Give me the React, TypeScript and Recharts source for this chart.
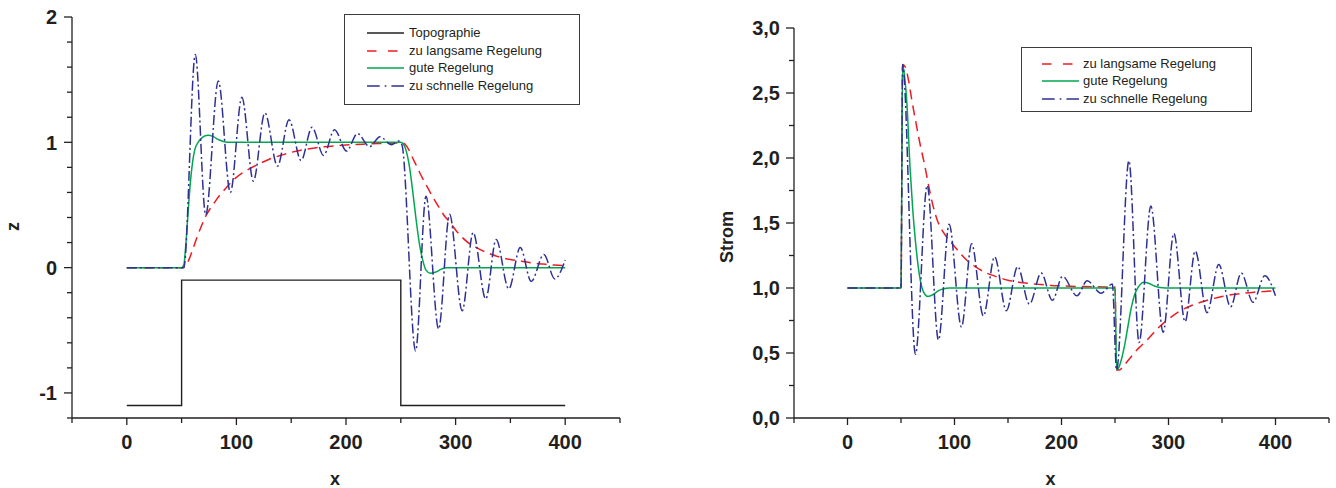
import React from 'react';
import { LineChart, Line, XAxis, YAxis, Legend, Label } from 'recharts';

const FONT = '"Liberation Sans", Arial, Helvetica, sans-serif';
const INK = '#231f20';
const RED = '#ed1c24';
const GREEN = '#00a651';
const BLUE = '#2e3192';

// ---- left panel: z over x ----
const topoX = [0, 50, 50, 250, 250, 400];
const topoZ = [-1.1, -1.1, -0.1, -0.1, -1.1, -1.1];

const langsamX = [0, 50, 53, 56, 60, 64, 68, 72, 76, 80, 85, 90, 95, 100, 110, 120, 130, 140, 150, 160, 170, 180, 190, 200, 215, 230, 250,
  253, 256, 260, 265, 270, 275, 280, 285, 290, 295, 300, 310, 320, 330, 340, 350, 360, 370, 380, 390, 400];
const langsamZ = [0, 0, 0.01, 0.05, 0.14, 0.24, 0.33, 0.41, 0.47, 0.52, 0.58, 0.63, 0.68, 0.72, 0.78, 0.825, 0.865, 0.895, 0.92, 0.94, 0.953, 0.964, 0.972, 0.978, 0.985, 0.99, 0.995,
  0.99, 0.96, 0.89, 0.8, 0.71, 0.63, 0.55, 0.48, 0.41, 0.36, 0.3, 0.21, 0.155, 0.115, 0.085, 0.065, 0.05, 0.037, 0.028, 0.02, 0.015];

const gutX = [0, 50, 52, 54, 56, 58, 60, 62, 65, 69, 74, 79, 84, 89, 95, 250, 252, 255, 258, 261, 264, 267, 270, 273, 277, 282, 287, 292, 400];
const gutZ = [0, 0, 0.02, 0.2, 0.45, 0.68, 0.84, 0.94, 1.0, 1.04, 1.056, 1.045, 1.02, 1.005, 1.0, 1.0, 0.99, 0.93, 0.8, 0.6, 0.38, 0.19, 0.06, -0.02, -0.045, -0.035, -0.012, 0, 0];

const schnellX = [0, 50, 52, 62.5, 72, 83.5, 94.5, 105, 115.5, 126, 137.5, 148, 159, 169, 179.5, 189.5, 200.5, 210.5, 221.5, 231, 241.5, 248, 251,
  263.5, 273, 284.5, 294.5, 306, 316, 327.5, 337, 348.5, 359, 369, 380.5, 390.5, 400];
const schnellZ = [0, 0, 0, 1.7, 0.42, 1.49, 0.6, 1.36, 0.69, 1.235, 0.81, 1.18, 0.855, 1.12, 0.895, 1.1, 0.93, 1.07, 0.965, 1.045, 0.98, 1.01, 0.98,
  -0.665, 0.57, -0.49, 0.425, -0.345, 0.28, -0.25, 0.225, -0.17, 0.16, -0.11, 0.105, -0.09, 0.06];

// ---- right panel: Strom over x ----
const langsamSX = [0, 50, 51.5, 54, 57, 60, 64, 68, 72, 76, 80, 84, 88, 92, 96, 100, 106, 112, 120, 130, 140, 150, 160, 170, 180, 190, 200, 220, 240, 250,
  251.5, 254, 258, 262, 266, 270, 275, 280, 290, 300, 310, 320, 330, 340, 350, 360, 370, 380, 390, 400];
const langsamS = [1, 1, 2.72, 2.7, 2.6, 2.45, 2.27, 2.1, 1.95, 1.78, 1.63, 1.52, 1.45, 1.4, 1.36, 1.32, 1.26, 1.21, 1.16, 1.115, 1.085, 1.06, 1.045, 1.035, 1.027, 1.02, 1.016, 1.011, 1.008, 1.007,
  0.37, 0.37, 0.4, 0.44, 0.48, 0.52, 0.56, 0.6, 0.69, 0.76, 0.82, 0.86, 0.89, 0.915, 0.935, 0.95, 0.96, 0.968, 0.974, 0.98];

const gutSX = [0, 50, 51.5, 53, 55.5, 58.5, 61, 63.5, 66, 68, 71, 75, 80, 85, 90, 95, 250, 251.5, 253, 256, 259, 262, 265, 268, 272, 277, 282, 287, 292, 297, 400];
const gutS = [1, 1, 2.72, 2.65, 2.42, 1.92, 1.6, 1.36, 1.17, 1.06, 0.97, 0.935, 0.95, 0.98, 0.995, 1.0, 1.0, 0.37, 0.38, 0.45, 0.56, 0.7, 0.84, 0.94, 1.01, 1.045, 1.035, 1.015, 1.003, 1.0, 1.0];

const schnellSX = [0, 50, 51.5, 63.5, 74.5, 85, 95, 106.5, 116, 127, 137.5, 148.5, 159, 170, 181, 191.5, 201, 214.5, 224, 237, 247.5,
  251.5, 263, 272.5, 283.5, 295, 305, 315.5, 325, 336, 347, 358, 368, 379, 390, 400];
const schnellS = [1, 1, 2.72, 0.49, 1.79, 0.6, 1.49, 0.7, 1.34, 0.785, 1.24, 0.825, 1.165, 0.875, 1.115, 0.905, 1.09, 0.94, 1.055, 0.96, 1.03,
  0.37, 1.98, 0.58, 1.63, 0.66, 1.42, 0.74, 1.285, 0.81, 1.18, 0.855, 1.115, 0.89, 1.095, 0.94];

// ---- ticks ----
const xTicks = [-50, 0, 50, 100, 150, 200, 250, 300, 350, 400, 450];
const zTicks = [-1.2, -1, -0.8, -0.6, -0.4, -0.2, 0, 0.2, 0.4, 0.6, 0.8, 1, 1.2, 1.4, 1.6, 1.8, 2];
const sTicks = [0, 0.25, 0.5, 0.75, 1, 1.25, 1.5, 1.75, 2, 2.25, 2.5, 2.75, 3];

const zip = (xs: number[], ys: number[]) => xs.map((x, i) => ({ x, y: ys[i] }));

const axisStyle = { stroke: INK, strokeWidth: 1.3 };
const tickText = { fontFamily: FONT, fontSize: 20, fontWeight: 700, fill: INK };

const renderXTick = (p: any) => {
  const v = p.payload.value;
  const major = v % 100 === 0;
  return (
    <g>
      <line x1={p.x} y1={p.y} x2={p.x} y2={p.y + (major ? 7 : 5)} stroke={INK} strokeWidth={1.3} />
      {major && (
        <text x={p.x} y={p.y + 31} textAnchor="middle" {...tickText}>{v}</text>
      )}
    </g>
  );
};

const makeYTick = (isMajor: (v: number) => boolean, fmt: (v: number) => string, gap: number) => (p: any) => {
  const v = p.payload.value;
  const major = isMajor(v);
  return (
    <g>
      <line x1={p.x} y1={p.y} x2={p.x - (major ? 8 : 5)} y2={p.y} stroke={INK} strokeWidth={1.3} />
      {major && (
        <text x={p.x - gap} y={p.y} dy="0.36em" textAnchor="end" {...tickText}>{fmt(v)}</text>
      )}
    </g>
  );
};

const zTick = makeYTick((v) => Number.isInteger(v), (v) => String(v), 15);
const sTick = makeYTick((v) => Number.isInteger(v * 2), (v) => v.toFixed(1).replace('.', ','), 14);

const xTitle = (p: any) => {
  const vb = p.viewBox || { x: 0, y: 418, width: 550 };
  return (
    <text x={vb.x + vb.width / 2 - 11} y={vb.y + 67} textAnchor="middle" fontFamily={FONT} fontSize={18} fontWeight={700} fill={INK}>x</text>
  );
};

const yTitle = (text: string, dx: number, dy: number) => (p: any) => {
  const vb = p.viewBox || { x: 0, y: 20, height: 400 };
  const cx = vb.x + dx;
  const cy = vb.y + vb.height / 2 + dy;
  return (
    <text x={cx} y={cy} transform={`rotate(-90 ${cx} ${cy})`} textAnchor="middle" dy="0.35em"
      fontFamily={FONT} fontSize={18} fontWeight={700} fill={INK}>{text}</text>
  );
};

type Entry = { name: string; color: string; dash?: string };

const legendZ: Entry[] = [
  { name: 'Topographie', color: INK },
  { name: 'zu langsame Regelung', color: RED, dash: '9.5 11.5' },
  { name: 'gute Regelung', color: GREEN },
  { name: 'zu schnelle Regelung', color: BLUE, dash: '12.7 5 1.7 5 13' },
];
const legendS: Entry[] = legendZ.slice(1);

const LegendBox = ({ entries, firstRow, padLeft, gap }: { entries: Entry[]; firstRow: number; padLeft: number; gap: number }) => (
  <div style={{
    position: 'relative', width: '100%', height: '100%', boxSizing: 'border-box',
    border: '1.3px solid #3c3c3c', background: '#fff', fontFamily: FONT, fontSize: 13, color: INK,
  }}>
    {entries.map((e, i) => (
      <div key={e.name} style={{
        position: 'absolute', left: padLeft, top: firstRow + i * 17.6 - 8, height: 16,
        display: 'flex', alignItems: 'center', whiteSpace: 'nowrap',
      }}>
        <svg width={37} height={4} style={{ display: 'block' }}>
          <line x1={0} y1={2} x2={37} y2={2} stroke={e.color} strokeWidth={1.6} strokeDasharray={e.dash} />
        </svg>
        <span style={{ marginLeft: gap, lineHeight: '16px' }}>{e.name}</span>
      </div>
    ))}
  </div>
);

const lineProps = { dataKey: 'y', dot: false, isAnimationActive: false, strokeWidth: 1.5 };

const ZChart = () => (
  <LineChart width={670} height={488} margin={{ top: 17, right: 50, bottom: 30, left: 0 }}>
    <XAxis dataKey="x" type="number" domain={[-50, 450]} ticks={xTicks} interval={0} height={40}
      tickSize={0} tickMargin={0} tickLine={false} axisLine={axisStyle} tick={renderXTick}>
      <Label content={xTitle} />
    </XAxis>
    <YAxis type="number" domain={[-1.2, 2]} ticks={zTicks} interval={0} width={72}
      tickSize={0} tickMargin={0} tickLine={false} axisLine={axisStyle} tick={zTick}>
      <Label content={yTitle('z', 13, 9)} />
    </YAxis>
    <Line {...lineProps} data={zip(topoX, topoZ)} name="Topographie" type="linear" stroke={INK} strokeWidth={1.4} />
    <Line {...lineProps} data={zip(langsamX, langsamZ)} name="zu langsame Regelung" type="monotone" stroke={RED} strokeDasharray="10 6" />
    <Line {...lineProps} data={zip(gutX, gutZ)} name="gute Regelung" type="monotone" stroke={GREEN} />
    <Line {...lineProps} data={zip(schnellX, schnellZ)} name="zu schnelle Regelung" type="monotone" stroke={BLUE} strokeDasharray="10 3 2 3" />
    <Legend layout="vertical" align="center" verticalAlign="middle"
      wrapperStyle={{ left: 344, top: 14, width: 236, height: 91 }}
      content={() => <LegendBox entries={legendZ} firstRow={18} padLeft={22} gap={5} />} />
  </LineChart>
);

const StromChart = () => (
  <LineChart width={666} height={488} margin={{ top: 28, right: 7, bottom: 30, left: 0 }}>
    <XAxis dataKey="x" type="number" domain={[-50, 450]} ticks={xTicks} interval={0} height={40}
      tickSize={0} tickMargin={0} tickLine={false} axisLine={axisStyle} tick={renderXTick}>
      <Label content={xTitle} />
    </XAxis>
    <YAxis type="number" domain={[0, 3]} ticks={sTicks} interval={0} width={124}
      tickSize={0} tickMargin={0} tickLine={false} axisLine={axisStyle} tick={sTick}>
      <Label content={yTitle('Strom', 57, 14)} />
    </YAxis>
    <Line {...lineProps} data={zip(langsamSX, langsamS)} name="zu langsame Regelung" type="monotone" stroke={RED} strokeDasharray="10 6" />
    <Line {...lineProps} data={zip(gutSX, gutS)} name="gute Regelung" type="monotone" stroke={GREEN} />
    <Line {...lineProps} data={zip(schnellSX, schnellS)} name="zu schnelle Regelung" type="monotone" stroke={BLUE} strokeDasharray="10 3 2 3" />
    <Legend layout="vertical" align="center" verticalAlign="middle"
      wrapperStyle={{ left: 351, top: 47, width: 231, height: 65 }}
      content={() => <LegendBox entries={legendS} firstRow={15.7} padLeft={20} gap={4} />} />
  </LineChart>
);

export default function App() {
  return (
    <div style={{ position: 'absolute', left: 0, top: 0, width: 1336, height: 488, background: '#fff' }}>
      <div style={{ position: 'absolute', left: 0, top: 0 }}>
        <ZChart />
      </div>
      <div style={{ position: 'absolute', left: 670, top: 0 }}>
        <StromChart />
      </div>
    </div>
  );
}
